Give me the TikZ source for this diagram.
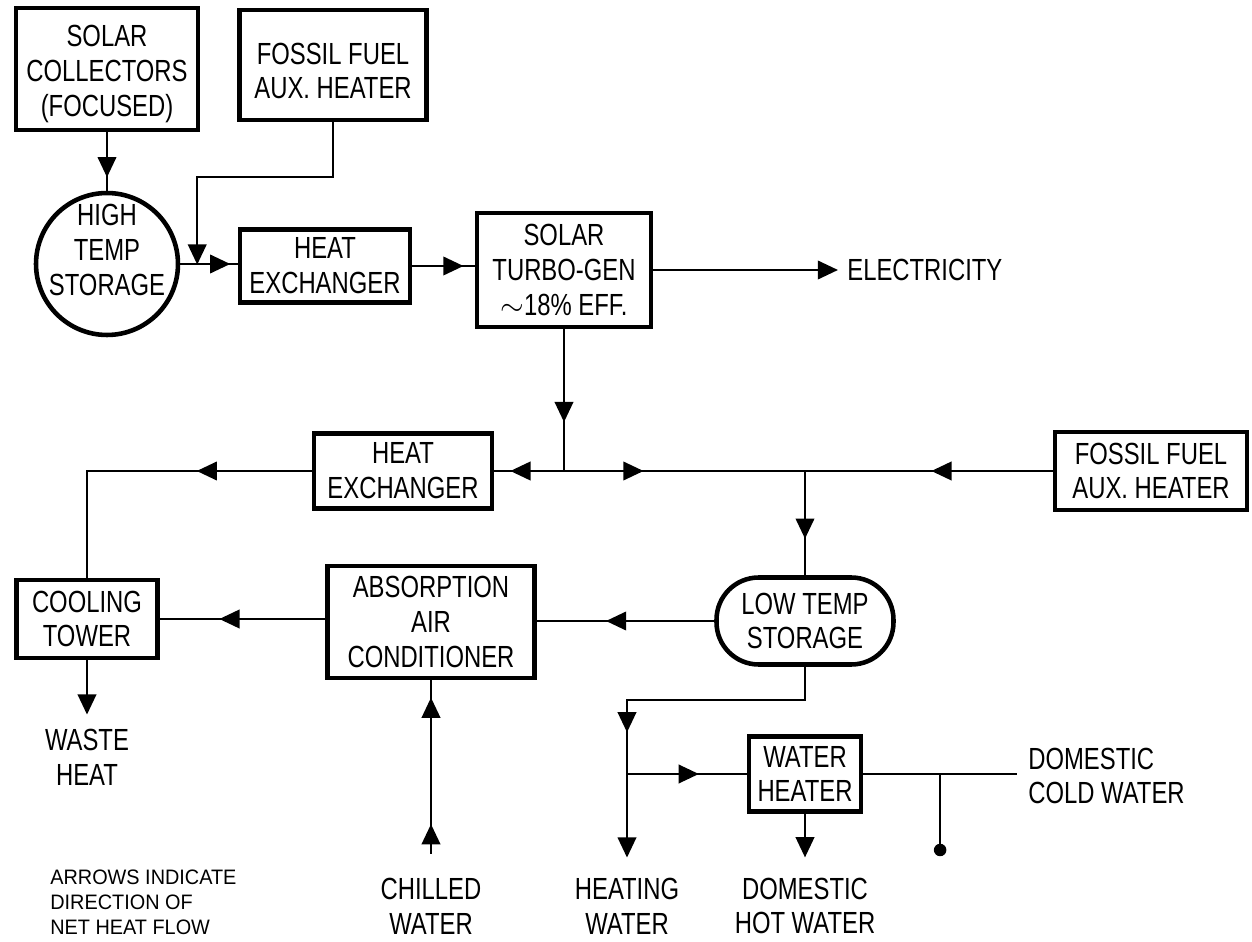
\documentclass[tikz,border=0pt]{standalone}
\usepackage{fontspec}
\setmainfont{Liberation Sans}[FakeStretch=0.78]
\newfontfamily\notefont{Liberation Sans}[FakeStretch=0.95]
\usetikzlibrary{arrows.meta,decorations.markings,calc}

\begin{document}
\begin{tikzpicture}[
    x=0.02cm, y=-0.02cm,
    every node/.style={font=\fontsize{17.4}{19.8}\selectfont, align=center, inner sep=0pt},
    >={Triangle[length=11.5pt,width=10.5pt]},
    pipe/.style={line width=1.4pt},
    unit/.style={draw, line width=2.6pt},
    flowat/.style={postaction={decorate, decoration={markings,
        mark=at position #1 with {\arrow{>}}}}}
]

% Frame of the figure
\useasboundingbox (0,0) rectangle (1252,942);

% === High temperature loop ===
\node[unit, minimum width=3.64cm, minimum height=2.44cm,
      label={[align=center, yshift=-0.1cm]center:SOLAR\\COLLECTORS\\(FOCUSED)}] (collectors) at (107,69) {};
\node[unit, minimum width=3.74cm, minimum height=2.2cm,
      label={[align=center, yshift=-0.12cm]center:FOSSIL FUEL\\AUX.\ HEATER}] (auxtop) at (333,65) {};
\node[unit, circle, minimum size=2.84cm,
      label={[align=center, yshift=0.28cm]center:HIGH\\TEMP\\STORAGE}] (hightemp) at (107,264) {};
\node[unit, minimum width=3.4cm, minimum height=1.46cm] (hxtop) at (325,266) {HEAT\\EXCHANGER};
\node[unit, minimum width=3.48cm, minimum height=2.28cm] (turbo) at (564,270) {SOLAR\\TURBO-GEN\\$\sim$18\% EFF.};
\node[anchor=west] (elec) at (847,270) {ELECTRICITY};

% Collectors charge the storage
\draw[pipe, flowat=0.77] (collectors.south) -- (hightemp.north);

% Storage and aux heater feed the exchanger
\draw[pipe, flowat=0.87] (hightemp.east) -- (hightemp.east -| hxtop.west);
\coordinate (auxjoin) at ($(hightemp.east)!0.295!(hxtop.west)$);
\draw[pipe, ->] (auxtop.south) -- ++(0,55) -| (auxjoin);

% Exchanger to turbine, turbine to grid
\draw[pipe, flowat=0.82] (hxtop.east) -- (hxtop.east -| turbo.west);
\coordinate (elecin) at ($(elec.west)+(-9,0)$);
\draw[pipe, ->] (turbo.east) -- (elecin);

% === Reject heat header ===
\node[unit, minimum width=3.56cm, minimum height=1.5cm] (hxlow) at (403,471) {HEAT\\EXCHANGER};
\node[unit, minimum width=3.84cm, minimum height=1.56cm] (auxlow) at (1151,471) {FOSSIL FUEL\\AUX.\ HEATER};
\node[unit, rounded corners=24pt, minimum width=3.54cm, minimum height=1.74cm] (lowtemp) at (805,621) {LOW TEMP\\STORAGE};

\coordinate (split) at (turbo.south |- hxlow.east);
\coordinate (tee) at (lowtemp.north |- hxlow.east);
\draw[pipe, flowat=0.655] (turbo.south) -- (split);
\draw[pipe, flowat=0.77] (split) -- (hxlow.east);
\draw[pipe, flowat=0.33] (split) -- (tee);
\draw[pipe, flowat=0.49] (auxlow.west) -- (tee);
\draw[pipe, flowat=0.65] (tee) -- (lowtemp.north);

% === Cooling side ===
\node[unit, minimum width=2.82cm, minimum height=1.56cm] (tower) at (87,619) {COOLING\\TOWER};
\node[unit, minimum width=4.14cm, minimum height=2.24cm] (absorb) at (431,622) {ABSORPTION\\AIR\\CONDITIONER};
\node (waste) at (87,757) {WASTE\\HEAT};
\node (chilled) at (431,906) {CHILLED\\WATER};

\draw[pipe, flowat=0.347] (hxlow.west) -| (tower.north);
\draw[pipe, flowat=0.61] (lowtemp.west) -- (lowtemp.west -| absorb.east);
\draw[pipe, flowat=0.64] (tower.east -| absorb.west) -- (tower.east);
\coordinate (wasteout) at ($(waste.north)+(0,-14)$);
\draw[pipe, ->] (tower.south) -- (wasteout);
\coordinate (chillin) at ($(chilled.north)+(0,-24)$);
\draw[pipe, flowat=0.17, flowat=0.9] (chillin) -- (absorb.south);

% === Domestic water ===
\node[unit, minimum width=2.24cm, minimum height=1.5cm] (heater) at (805,774) {WATER\\HEATER};
\node (heating) at (627,906) {HEATING\\WATER};
\node (hotwater) at (805,906) {DOMESTIC\\HOT WATER};
\node[anchor=west, align=left] (cold) at (1028,776) {DOMESTIC\\COLD WATER};

\coordinate (hwbend) at ($(lowtemp.south)+(0,33)$);
\coordinate (branch) at (heating.north |- heater.west);
\draw[pipe, flowat=0.854] (lowtemp.south) -- (hwbend) -| (branch);
\coordinate (heatout) at ($(heating.north)+(0,-20)$);
\draw[pipe, ->] (branch) -- (heatout);
\draw[pipe, flowat=0.6] (branch) -- (heater.west);
\coordinate (hotout) at ($(hotwater.north)+(0,-20)$);
\draw[pipe, ->] (heater.south) -- (hotout);

% Cold supply with drain plug
\coordinate (coldin) at ($(cold.west)+(-11,0)$);
\draw[pipe] (heater.east) -- (heater.east -| coldin);
\coordinate (valve) at ($(heater.east)!0.5!(heater.east -| coldin)$);
\node[circle, fill, minimum size=0.25cm] (plug) at ($(valve)+(0,76)$) {};
\draw[pipe] (valve) -- (plug.center);

% Legend
\node[anchor=west, align=left, font=\notefont\fontsize{11.9}{14.2}\selectfont] (note) at (50,902) {ARROWS INDICATE\\DIRECTION OF\\NET HEAT FLOW};

\end{tikzpicture}
\end{document}
